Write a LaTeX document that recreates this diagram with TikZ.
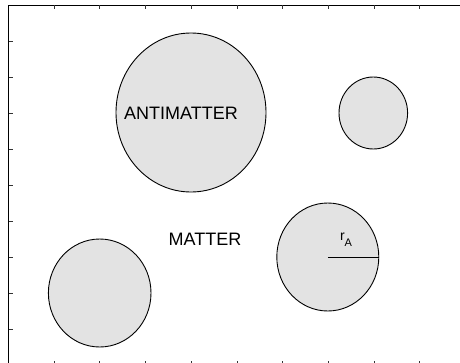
\documentclass[tikz,border=0pt]{standalone}
\usepackage{fontspec}
\setmainfont{Liberation Sans}
\usetikzlibrary{shapes.geometric}
\tikzset{
  blob/.style={ellipse, draw=black, line width=0.9pt, fill=black!11, inner sep=0pt},
  lbl/.style={inner sep=0pt, font=\fontsize{18}{18}\selectfont},
  tick/.style={line width=0.9pt, draw=black!80},
  frame/.style={line width=1pt, draw=black}
}
\begin{document}
\begin{tikzpicture}[x=1pt,y=-1pt]
\useasboundingbox (0,0) rectangle (460,362);
\clip (0,0) rectangle (460,362);
% frame
\draw[frame] (8.5,365.5) -- (8.5,5) -- (465.5,5) -- (465.5,365.5) -- cycle;
% ticks
\foreach \i in {1,...,9} {
  \draw[tick] ({8.5+45.7*\i},5) -- ({8.5+45.7*\i},9);
  \draw[tick] ({8.5+45.7*\i},365) -- ({8.5+45.7*\i},360.5);
  \draw[tick] (8.5,{5+36*\i}) -- (12.5,{5+36*\i});
}
% circles
\node[blob, minimum width=150pt, minimum height=159pt] (anti) at (191,112.5) {};
\node[blob, minimum width=68.6pt, minimum height=72pt] (small) at (373.3,113) {};
\node[blob, minimum width=102pt, minimum height=108pt] (ra) at (327.8,257) {};
\node[blob, minimum width=102.6pt, minimum height=108pt] (left) at (99.7,293) {};
% radius
\coordinate (rc) at (ra.center);
\draw[line width=0.9pt] (rc) -- (ra.east);
\node[inner sep=0pt, font=\fontsize{14}{14}\selectfont] (rlabel) at (346,240) {r\raisebox{-0.4em}{\fontsize{11}{11}\selectfont A}};
% labels
\node[lbl] (antitext) at (181,113.5) {ANTIMATTER};
\node[lbl] (mattertext) at (205,239.5) {MATTER};
\end{tikzpicture}
\end{document}
